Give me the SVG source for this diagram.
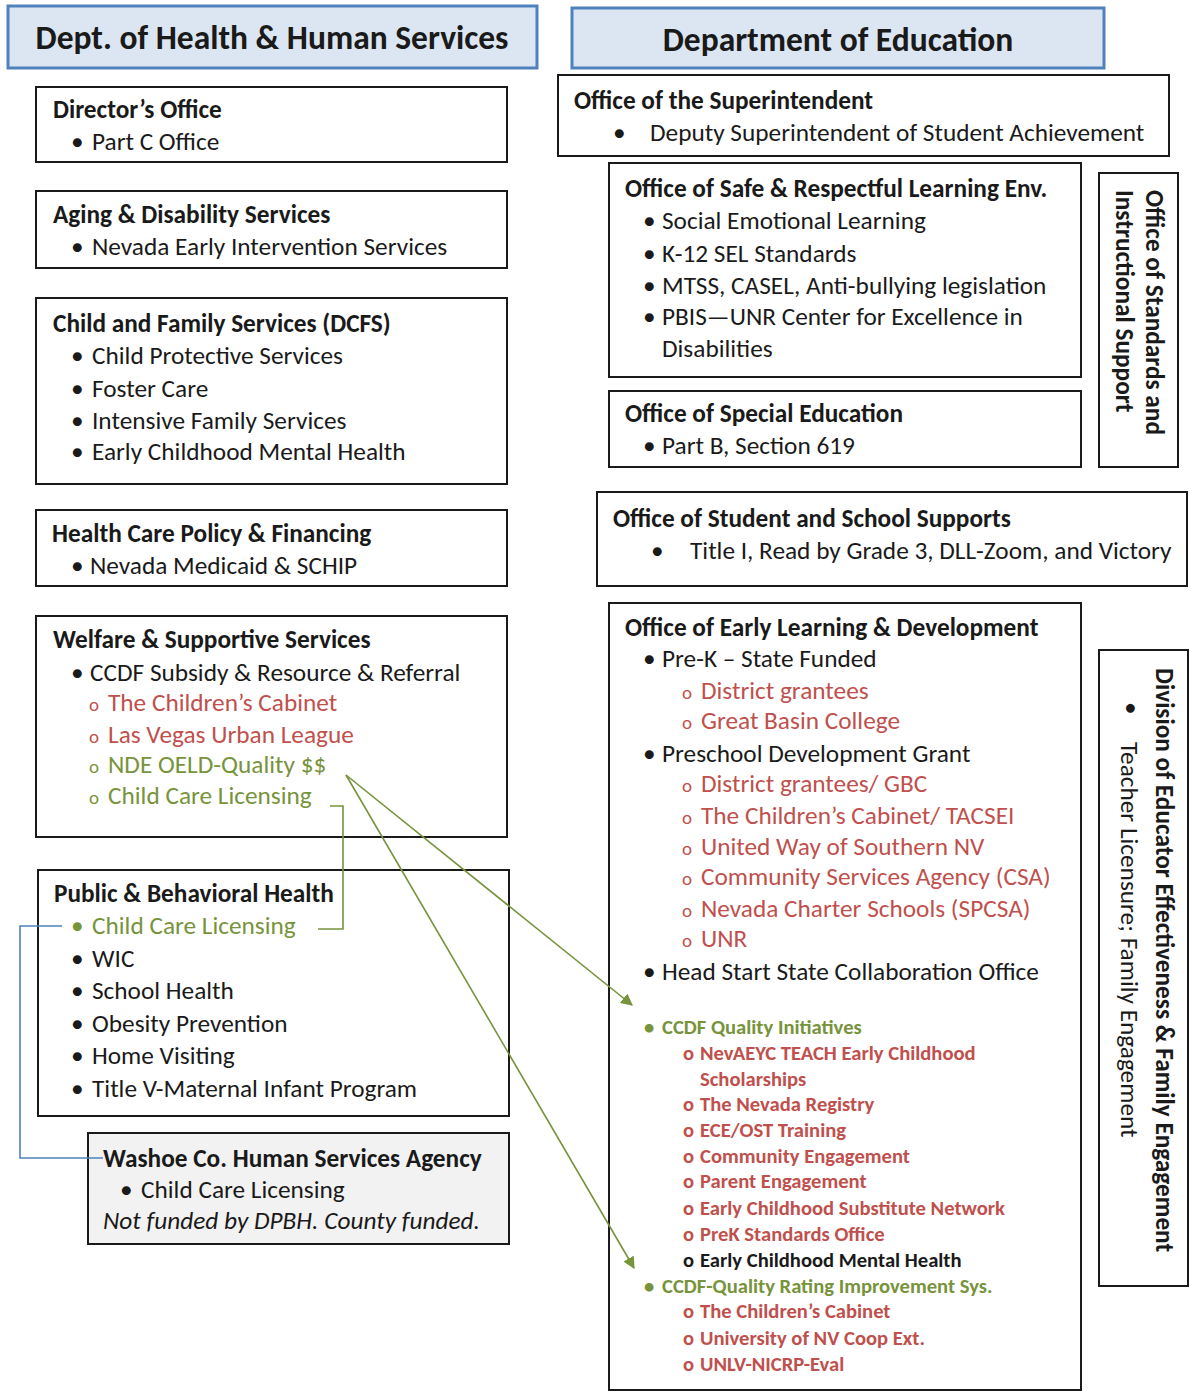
<svg xmlns="http://www.w3.org/2000/svg" width="1190" height="1393" viewBox="0 0 1190 1393">
<style>
text{font-family:Carlito,Lato,"Liberation Sans",sans-serif;fill:#1a1a1a}
.hdr{fill:#dce6f2;stroke:#4f81bd;stroke-width:3}
.ht{font-size:33.5px;font-weight:bold;text-anchor:middle}
.box{fill:#fff;stroke:#1a1a1a;stroke-width:2}
.gbox{fill:#f2f2f2;stroke:#1a1a1a;stroke-width:2}
.t{font-size:25.3px;font-weight:bold}
.i{font-size:25.3px}
.o{font-size:19px}
.s{font-size:20.6px;font-weight:bold}
.r{fill:#c0504d}
.g{fill:#77933c}
.it{font-style:italic}
.gl{fill:none;stroke:#77933c;stroke-width:1.6}
.bl{fill:none;stroke:#4f81bd;stroke-width:1.6}
</style>
<defs>
<marker id="ag" viewBox="0 0 10 10" refX="9" refY="5" markerWidth="12" markerHeight="12" orient="auto" markerUnits="userSpaceOnUse">
<path d="M0,0 L10,5 L0,10 z" fill="#77933c"/>
</marker>
</defs>
<rect width="1190" height="1393" fill="#fff"/>

<g id="hhs-header">
<rect class="hdr" x="8" y="6" width="529" height="62"/>
<text class="ht" x="272" y="49">Dept. of Health &amp; Human Services</text>
</g>
<g id="doe-header">
<rect class="hdr" x="572" y="8" width="532" height="60"/>
<text class="ht" x="838" y="51">Department of Education</text>
</g>

<g id="directors-office">
<rect class="box" x="36" y="87" width="471" height="75"/>
<text class="t" x="53" y="118">Director’s Office</text>
<text class="i" x="71" y="150">•</text><text class="i" x="92" y="150">Part C Office</text>
</g>

<g id="aging-disability">
<rect class="box" x="36" y="191" width="471" height="77"/>
<text class="t" x="53" y="223">Aging &amp; Disability Services</text>
<text class="i" x="71" y="255">•</text><text class="i" x="92" y="255">Nevada Early Intervention Services</text>
</g>

<g id="dcfs">
<rect class="box" x="36" y="298" width="471" height="186"/>
<text class="t" x="53" y="332">Child and Family Services (DCFS)</text>
<text class="i" x="71" y="364">•</text><text class="i" x="92" y="364">Child Protective Services</text>
<text class="i" x="71" y="397">•</text><text class="i" x="92" y="397">Foster Care</text>
<text class="i" x="71" y="429">•</text><text class="i" x="92" y="429">Intensive Family Services</text>
<text class="i" x="71" y="460">•</text><text class="i" x="92" y="460">Early Childhood Mental Health</text>
</g>

<g id="health-care-policy">
<rect class="box" x="36" y="510" width="471" height="76"/>
<text class="t" x="52" y="542">Health Care Policy &amp; Financing</text>
<text class="i" x="71" y="574">•</text><text class="i" x="90" y="574">Nevada Medicaid &amp; SCHIP</text>
</g>

<g id="welfare">
<rect class="box" x="36" y="616" width="471" height="221"/>
<text class="t" x="53" y="648">Welfare &amp; Supportive Services</text>
<text class="i" x="71" y="681">•</text><text class="i" x="90" y="681">CCDF Subsidy &amp; Resource &amp; Referral</text>
<text class="o r" x="89" y="711">o</text><text class="i r" x="108" y="711">The Children’s Cabinet</text>
<text class="o r" x="89" y="743">o</text><text class="i r" x="108" y="743">Las Vegas Urban League</text>
<text class="o g" x="89" y="773">o</text><text class="i g" x="108" y="773">NDE OELD-Quality $$</text>
<text class="o g" x="89" y="804">o</text><text class="i g" x="108" y="804">Child Care Licensing</text>
</g>

<g id="public-behavioral-health">
<rect class="box" x="38" y="870" width="471" height="246"/>
<text class="t" x="54" y="902">Public &amp; Behavioral Health</text>
<text class="i g" x="71" y="934">•</text><text class="i g" x="92" y="934">Child Care Licensing</text>
<text class="i" x="71" y="967">•</text><text class="i" x="92" y="967">WIC</text>
<text class="i" x="71" y="999">•</text><text class="i" x="92" y="999">School Health</text>
<text class="i" x="71" y="1032">•</text><text class="i" x="92" y="1032">Obesity Prevention</text>
<text class="i" x="71" y="1064">•</text><text class="i" x="92" y="1064">Home Visiting</text>
<text class="i" x="71" y="1097">•</text><text class="i" x="92" y="1097">Title V-Maternal Infant Program</text>
</g>

<g id="washoe">
<rect class="gbox" x="88" y="1133" width="421" height="111"/>
<text class="t" x="103" y="1167">Washoe Co. Human Services Agency</text>
<text class="i" x="120" y="1198">•</text><text class="i" x="141" y="1198">Child Care Licensing</text>
<text class="i it" x="103" y="1229">Not funded by DPBH. County funded.</text>
</g>

<g id="superintendent">
<rect class="box" x="558" y="75" width="611" height="81"/>
<text class="t" x="574" y="109">Office of the Superintendent</text>
<text class="i" x="613" y="141">•</text><text class="i" x="650" y="141">Deputy Superintendent of Student Achievement</text>
</g>

<g id="safe-respectful">
<rect class="box" x="609" y="163" width="472" height="214"/>
<text class="t" x="625" y="197">Office of Safe &amp; Respectful Learning Env.</text>
<text class="i" x="643" y="229">•</text><text class="i" x="662" y="229">Social Emotional Learning</text>
<text class="i" x="643" y="262">•</text><text class="i" x="662" y="262">K-12 SEL Standards</text>
<text class="i" x="643" y="294">•</text><text class="i" x="662" y="294">MTSS, CASEL, Anti-bullying legislation</text>
<text class="i" x="643" y="325">•</text><text class="i" x="662" y="325">PBIS—UNR Center for Excellence in</text>
<text class="i" x="662" y="357">Disabilities</text>
</g>

<g id="special-education">
<rect class="box" x="609" y="391" width="472" height="76"/>
<text class="t" x="625" y="422">Office of Special Education</text>
<text class="i" x="643" y="454">•</text><text class="i" x="662" y="454">Part B, Section 619</text>
</g>

<g id="standards-support">
<rect class="box" x="1099" y="173" width="79" height="294"/>
<text class="t" transform="translate(1146,190) rotate(90)">Office of Standards and</text>
<text class="t" transform="translate(1116,190) rotate(90)">Instructional Support</text>
</g>

<g id="student-school-supports">
<rect class="box" x="597" y="492" width="590" height="94"/>
<text class="t" x="613" y="527">Office of Student and School Supports</text>
<text class="i" x="651" y="559">•</text><text class="i" x="690" y="559">Title I, Read by Grade 3, DLL-Zoom, and Victory</text>
</g>

<g id="early-learning">
<rect class="box" x="609" y="603" width="472" height="787"/>
<text class="t" x="625" y="636">Office of Early Learning &amp; Development</text>
<text class="i" x="643" y="667">•</text><text class="i" x="662" y="667">Pre-K – State Funded</text>
<text class="o r" x="682" y="699">o</text><text class="i r" x="701" y="699">District grantees</text>
<text class="o r" x="682" y="729">o</text><text class="i r" x="701" y="729">Great Basin College</text>
<text class="i" x="643" y="762">•</text><text class="i" x="662" y="762">Preschool Development Grant</text>
<text class="o r" x="682" y="792">o</text><text class="i r" x="701" y="792">District grantees/ GBC</text>
<text class="o r" x="682" y="824">o</text><text class="i r" x="701" y="824">The Children’s Cabinet/ TACSEI</text>
<text class="o r" x="682" y="855">o</text><text class="i r" x="701" y="855">United Way of Southern NV</text>
<text class="o r" x="682" y="885">o</text><text class="i r" x="701" y="885">Community Services Agency (CSA)</text>
<text class="o r" x="682" y="917">o</text><text class="i r" x="701" y="917">Nevada Charter Schools (SPCSA)</text>
<text class="o r" x="682" y="947">o</text><text class="i r" x="701" y="947">UNR</text>
<text class="i" x="643" y="980">•</text><text class="i" x="662" y="980">Head Start State Collaboration Office</text>
<text class="s g" x="644" y="1034">•</text><text class="s g" x="662" y="1034">CCDF Quality Initiatives</text>
<text class="s r" x="683" y="1060">o</text><text class="s r" x="700" y="1060">NevAEYC TEACH Early Childhood</text>
<text class="s r" x="700" y="1086">Scholarships</text>
<text class="s r" x="683" y="1111">o</text><text class="s r" x="700" y="1111">The Nevada Registry</text>
<text class="s r" x="683" y="1137">o</text><text class="s r" x="700" y="1137">ECE/OST Training</text>
<text class="s r" x="683" y="1163">o</text><text class="s r" x="700" y="1163">Community Engagement</text>
<text class="s r" x="683" y="1188">o</text><text class="s r" x="700" y="1188">Parent Engagement</text>
<text class="s r" x="683" y="1215">o</text><text class="s r" x="700" y="1215">Early Childhood Substitute Network</text>
<text class="s r" x="683" y="1241">o</text><text class="s r" x="700" y="1241">PreK Standards Office</text>
<text class="s" x="683" y="1267">o</text><text class="s" x="700" y="1267">Early Childhood Mental Health</text>
<text class="s g" x="644" y="1293">•</text><text class="s g" x="662" y="1293">CCDF-Quality Rating Improvement Sys.</text>
<text class="s r" x="683" y="1318">o</text><text class="s r" x="700" y="1318">The Children’s Cabinet</text>
<text class="s r" x="683" y="1345">o</text><text class="s r" x="700" y="1345">University of NV Coop Ext.</text>
<text class="s r" x="683" y="1371">o</text><text class="s r" x="700" y="1371">UNLV-NICRP-Eval</text>
</g>

<g id="educator-effectiveness">
<rect class="box" x="1099" y="650" width="89" height="636"/>
<text class="t" transform="translate(1156,668) rotate(90)">Division of Educator Effectiveness &amp; Family Engagement</text>
<text class="i" transform="translate(1123,702) rotate(90)">•</text>
<text class="i" transform="translate(1121,742) rotate(90)">Teacher Licensure; Family Engagement</text>
</g>

<g id="connectors">
<path class="gl" d="M330,806 H343 V929 H318"/>
<path class="gl" d="M346,775 L632,1005" marker-end="url(#ag)"/>
<path class="gl" d="M346,775 L634,1268" marker-end="url(#ag)"/>
<path class="bl" d="M62,926 H20 V1158 H103"/>
</g>
</svg>
